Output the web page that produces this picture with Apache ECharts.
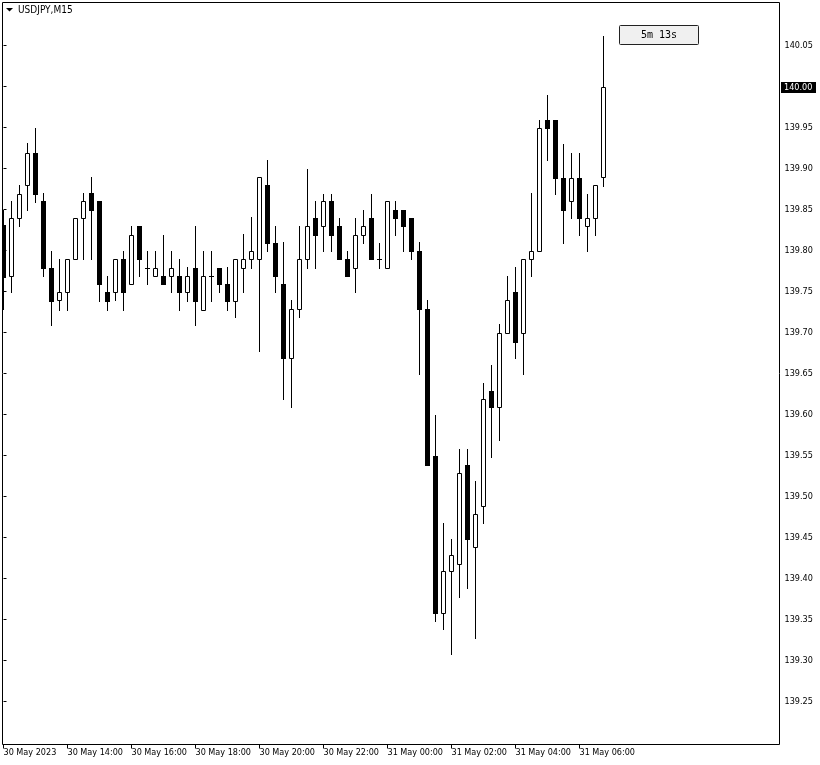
<!DOCTYPE html>
<html>
<head>
<meta charset="utf-8">
<script src="https://cdn.jsdelivr.net/npm/echarts@6/dist/echarts.min.js"></script>
<style>
html,body{margin:0;padding:0;background:#fff;}
#chart{width:820px;height:765px;}
</style>
</head>
<body>
<div id="chart"></div>
<script>
// ---- data (USDJPY M15, 30 May 12:00 .. 31 May 06:45) ----
const symbolTitle = 'USDJPY,M15';
const countdownText = '5m 13s';
const openP  = [139.831,139.769,139.840,139.880,139.919,139.860,139.779,139.740,139.749,139.790,
                139.840,139.870,139.860,139.749,139.749,139.790,139.759,139.830,139.779,139.769,
                139.769,139.769,139.769,139.749,139.779,139.728,139.769,139.779,139.759,139.739,
                139.779,139.790,139.790,139.880,139.809,139.759,139.669,139.729,139.790,139.840,
                139.830,139.860,139.830,139.790,139.779,139.819,139.840,139.790,139.779,139.850,
                139.850,139.840,139.800,139.729,139.549,139.358,139.409,139.418,139.539,139.439,
                139.488,139.629,139.609,139.700,139.750,139.700,139.790,139.800,139.959,139.959,
                139.889,139.860,139.889,139.830,139.840,139.890];
const highP  = [139.850,139.860,139.880,139.931,139.950,139.870,139.800,139.790,139.790,139.840,
                139.870,139.890,139.860,139.769,139.790,139.800,139.830,139.830,139.800,139.800,
                139.819,139.800,139.790,139.780,139.830,139.800,139.800,139.779,139.780,139.790,
                139.820,139.841,139.890,139.910,139.830,139.810,139.740,139.830,139.900,139.860,
                139.869,139.869,139.840,139.800,139.840,139.850,139.869,139.809,139.860,139.860,
                139.850,139.840,139.810,139.740,139.599,139.468,139.448,139.558,139.558,139.519,
                139.639,139.660,139.710,139.769,139.780,139.790,139.870,139.959,139.990,139.959,
                139.930,139.919,139.919,139.869,139.880,140.061];
const lowP   = [139.729,139.749,139.830,139.850,139.859,139.769,139.709,139.728,139.728,139.790,
                139.790,139.790,139.739,139.728,139.740,139.728,139.759,139.769,139.759,139.769,
                139.759,139.749,139.728,139.739,139.709,139.728,139.739,139.749,139.728,139.719,
                139.749,139.779,139.678,139.799,139.749,139.619,139.609,139.719,139.779,139.779,
                139.799,139.799,139.790,139.769,139.749,139.809,139.790,139.779,139.779,139.819,
                139.799,139.790,139.650,139.539,139.348,139.339,139.308,139.377,139.388,139.327,
                139.468,139.548,139.569,139.700,139.669,139.650,139.769,139.800,139.910,139.869,
                139.809,139.840,139.819,139.799,139.819,139.879];
const closeP = [139.768,139.840,139.869,139.919,139.869,139.779,139.739,139.749,139.790,139.840,
                139.860,139.850,139.759,139.739,139.790,139.749,139.819,139.790,139.779,139.779,
                139.759,139.779,139.749,139.769,139.739,139.769,139.769,139.759,139.739,139.790,
                139.790,139.800,139.890,139.809,139.769,139.669,139.729,139.790,139.830,139.819,
                139.860,139.819,139.790,139.769,139.819,139.830,139.790,139.790,139.860,139.840,
                139.830,139.799,139.729,139.539,139.358,139.409,139.429,139.529,139.448,139.479,
                139.619,139.609,139.700,139.740,139.688,139.790,139.800,139.950,139.950,139.889,
                139.850,139.889,139.840,139.840,139.880,140.000];
const timeTickIndex = [0, 8, 16, 24, 32, 40, 48, 56, 64, 72];
const timeTickLabels = ['30 May 2023','30 May 14:00','30 May 16:00','30 May 18:00','30 May 20:00',
                        '30 May 22:00','31 May 00:00','31 May 02:00','31 May 04:00','31 May 06:00'];
const priceTicks = [139.25,139.30,139.35,139.40,139.45,139.50,139.55,139.60,139.65,139.70,
                    139.75,139.80,139.85,139.90,139.95,140.00,140.05];

// ---- build ----
const candles = openP.map((o, i) => [i, o, highP[i], lowP[i], closeP[i]]);
const FONT = '"DejaVu Sans Condensed", "DejaVu Sans", sans-serif';

const chart = echarts.init(document.getElementById('chart'), null, {renderer: 'canvas'});

function renderCandle(params, api) {
  const i = api.value(0), o = api.value(1), h = api.value(2), l = api.value(3), c = api.value(4);
  const pO = api.coord([i, o]);
  const cx = Math.round(pO[0] - 0.5) + 0.5;
  const yO = Math.round(pO[1]);
  const yC = Math.round(api.coord([i, c])[1]);
  const yH = Math.round(api.coord([i, h])[1]);
  const yL = Math.round(api.coord([i, l])[1]);
  const children = [{
    type: 'line',
    shape: {x1: cx, y1: yH, x2: cx, y2: yL + 1},
    style: {stroke: '#000', lineWidth: 1}
  }];
  if (c > o) {
    children.push({
      type: 'rect',
      shape: {x: cx - 2, y: yC + 0.5, width: 4, height: Math.max(1, yO - yC)},
      style: {fill: '#fff', stroke: '#000', lineWidth: 1}
    });
  } else if (c < o) {
    children.push({
      type: 'rect',
      shape: {x: cx - 2.5, y: yO, width: 5, height: yC - yO + 1},
      style: {fill: '#000'}
    });
  } else {
    children.push({
      type: 'line',
      shape: {x1: cx - 2.5, y1: yO + 0.5, x2: cx + 2.5, y2: yO + 0.5},
      style: {stroke: '#000', lineWidth: 1}
    });
  }
  return {type: 'group', children: children};
}

const option = {
  backgroundColor: '#fff',
  animation: false,
  grid: {
    left: 2.5, top: 2.5, width: 777, height: 742,
    show: true, borderColor: '#000', borderWidth: 1, backgroundColor: '#fff'
  },
  xAxis: {
    type: 'value',
    min: -0.125, max: 97,
    axisLine: {show: false},
    splitLine: {show: false},
    axisTick: {show: true, length: 4, inside: false, customValues: timeTickIndex,
               lineStyle: {color: '#000', width: 1}},
    axisLabel: {
      show: true, customValues: timeTickIndex, margin: 4, align: 'left',
      color: '#000', fontFamily: FONT, fontSize: 9,
      formatter: v => timeTickLabels[timeTickIndex.indexOf(Math.round(v))] || ''
    }
  },
  yAxis: {
    type: 'value',
    position: 'right',
    min: 140.05 - (745.5 - 45.5 - 700) / 820 - 700 / 820 * 0 - (45.5 - 2.5 + 742) / 820 + 43 / 820 + 742 / 820 - 742 / 820,
    max: 140.05 + 43 / 820,
    axisLine: {show: false},
    splitLine: {show: false},
    axisTick: {show: true, length: 3, inside: false, customValues: priceTicks,
               lineStyle: {color: '#000', width: 1}},
    axisLabel: {
      show: true, customValues: priceTicks, margin: 5, align: 'left',
      color: '#000', fontFamily: FONT, fontSize: 9,
      formatter: v => v.toFixed(2)
    }
  },
  series: [{
    type: 'custom',
    renderItem: renderCandle,
    clip: true,
    encode: {x: 0, y: [1, 2, 3, 4]},
    data: candles
  }]
};
// exact y range: 140.05 sits 43px below the frame top, plot height 742px at 820px per 1.00
option.yAxis.max = 140.05 + 43 / 820;
option.yAxis.min = option.yAxis.max - 742 / 820;
chart.setOption(option);

// current-price marker placed via the axis scale
const lastClose = closeP[closeP.length - 1];
const yLast = chart.convertToPixel({yAxisIndex: 0}, lastClose);
chart.setOption({
  graphic: [
    {type: 'polygon', shape: {points: [[6, 8], [13, 8], [9.5, 11.5]]}, style: {fill: '#000'}},
    {type: 'text', x: 18, y: 10, style: {text: symbolTitle, fill: '#000', font: '10px ' + FONT, verticalAlign: 'middle'}},
    {type: 'rect', shape: {x: 619.5, y: 25.5, width: 79, height: 19, r: 1},
     style: {fill: '#f0f0f0', stroke: '#222', lineWidth: 1}},
    {type: 'text', x: 659, y: 35.5, style: {text: countdownText, fill: '#000', font: '10px "DejaVu Sans Mono", monospace',
     align: 'center', verticalAlign: 'middle'}},
    {type: 'rect', shape: {x: 781, y: Math.round(yLast) - 5, width: 35, height: 11}, style: {fill: '#000'}, z: 100},
    {type: 'text', x: 784, y: Math.round(yLast) + 0.5, z: 101,
     style: {text: lastClose.toFixed(2), fill: '#fff', font: '9px ' + FONT, verticalAlign: 'middle'}}
  ]
});
</script>
</body>
</html>
